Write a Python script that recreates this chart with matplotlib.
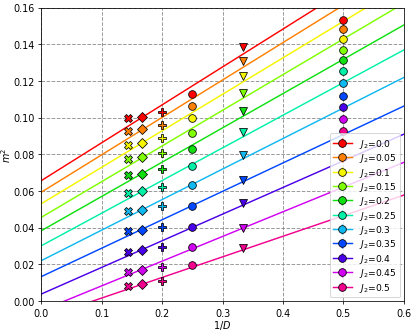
import numpy as np
import matplotlib
matplotlib.use('Agg')
import matplotlib.pyplot as plt

# J2 values and colours
j2 = [0.0, 0.05, 0.1, 0.15, 0.2, 0.25, 0.3, 0.35, 0.4, 0.45, 0.5]
colors = ['#ff0000', '#ff8000', '#f5f500', '#80ff00', '#10e010', '#00f0a8',
          '#10b8f0', '#0048ff', '#4a00e8', '#d000f0', '#f0008c']

# 1/D for each system size and its marker
inv_d = [1 / 7, 1 / 6, 1 / 5, 1 / 4, 1 / 3, 1 / 2]
markers = ['X', 'D', 'P', 'o', 'v', 'o']
msizes = [8, 7, 8, 8, 8, 8]

# m^2 values, one row per J2, one column per 1/D
m2 = [
    [0.0997, 0.1001, 0.1032, 0.1130, 0.1386, 0.1533],
    [0.0926, 0.0936, 0.0961, 0.1064, 0.1310, 0.1482],
    [0.0852, 0.0861, 0.0887, 0.0996, 0.1224, 0.1428],
    [0.0772, 0.0785, 0.0805, 0.0916, 0.1132, 0.1370],
    [0.0687, 0.0694, 0.0719, 0.0830, 0.1034, 0.1312],
    [0.0589, 0.0599, 0.0619, 0.0736, 0.0919, 0.1253],
    [0.0489, 0.0494, 0.0516, 0.0630, 0.0797, 0.1188],
    [0.0380, 0.0387, 0.0405, 0.0516, 0.0661, 0.1119],
    [0.0265, 0.0276, 0.0293, 0.0402, 0.0534, 0.1056],
    [0.0156, 0.0169, 0.0187, 0.0294, 0.0399, 0.0992],
    [0.0080, 0.0091, 0.0111, 0.0198, 0.0287, 0.0926],
]

# linear extrapolation lines: m^2 = a + b / D
fit_a = [0.0656, 0.0593, 0.0530, 0.0456, 0.0383, 0.0301, 0.0220, 0.0133, 0.0038, -0.0052, -0.0096]
fit_b = [0.2067, 0.2040, 0.1990, 0.1946, 0.1870, 0.1780, 0.1665, 0.1550, 0.1453, 0.1347, 0.1123]

fig = plt.figure(figsize=(6, 4.8), dpi=416 / 6)
ax = fig.add_axes([0.099, 0.093, 0.872, 0.882])

xs = np.array([0.0, 0.6])
for i in range(len(j2)):
    c = colors[i]
    ax.plot(xs, fit_a[i] + fit_b[i] * xs, color=c, lw=1.5, zorder=2)
    for k in range(len(inv_d)):
        ax.plot(inv_d[k], m2[i][k], marker=markers[k], ms=msizes[k], color=c,
                mec='k', mew=0.8, ls='none', zorder=3)
    # legend handle
    ax.errorbar([], [], yerr=[], fmt='o-', color=c, mec='k', mew=0.8, ms=8,
                lw=1.5, capsize=0, label=f'$J_2$={j2[i]}')

ax.set_xlim(0, 0.6)
ax.set_ylim(0, 0.16)
ax.set_xticks(np.arange(0, 0.61, 0.1))
ax.set_yticks(np.arange(0, 0.161, 0.02))
ax.set_xlabel('$1/D$', labelpad=0)
ax.set_ylabel('$m^2$', labelpad=0)
ax.grid(True, color='gray', ls='--', lw=1, alpha=0.8)
ax.set_axisbelow(True)
ax.legend(loc='lower right', fontsize=9.5, labelspacing=0.15, borderaxespad=0.4)

fig.savefig('out.png', dpi=416 / 6)
